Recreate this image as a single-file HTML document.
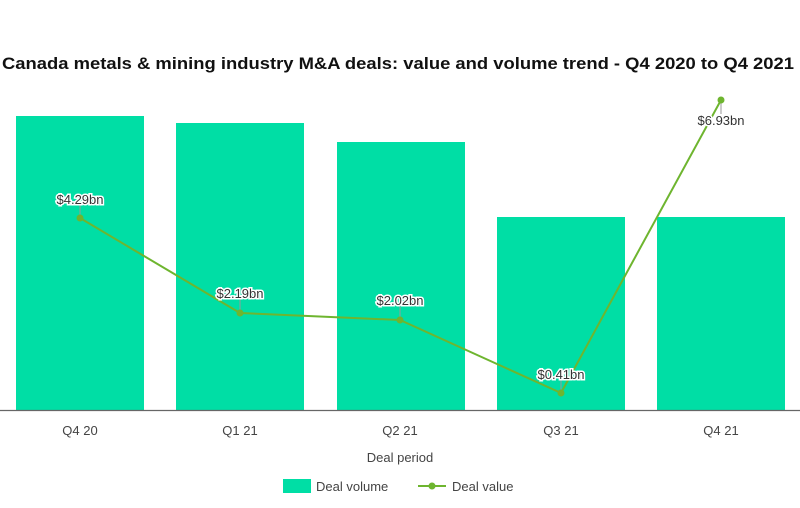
<!DOCTYPE html>
<html><head><style>body{margin:0;background:#fff}</style></head><body>
<svg width="800" height="503" xmlns="http://www.w3.org/2000/svg" font-family="Liberation Sans, Arial, sans-serif">
<text x="2" y="69" font-size="17" font-weight="bold" fill="#111" textLength="792" lengthAdjust="spacingAndGlyphs">Canada metals &amp; mining industry  M&amp;A deals: value and volume trend - Q4 2020 to Q4 2021</text>
<g fill="#00dea5">
<rect x="16" y="116" width="128" height="294"/>
<rect x="176" y="123" width="128" height="287"/>
<rect x="337" y="142" width="128" height="268"/>
<rect x="497" y="217" width="128" height="193"/>
<rect x="657" y="217" width="128" height="193"/>
</g>
<line x1="0" y1="410.5" x2="800" y2="410.5" stroke="#666" stroke-width="1.2"/>
<g font-size="13" fill="#444" text-anchor="middle">
<text x="80" y="435">Q4 20</text><text x="240" y="435">Q1 21</text><text x="400" y="435">Q2 21</text><text x="561" y="435">Q3 21</text><text x="721" y="435">Q4 21</text>
<text x="400" y="462">Deal period</text>
</g>
<g stroke="#999" stroke-width="1">
<line x1="80" y1="218" x2="80" y2="205"/><line x1="240" y1="313" x2="240" y2="298"/><line x1="400" y1="320" x2="400" y2="306"/><line x1="561" y1="393" x2="561" y2="380"/><line x1="721" y1="100" x2="721" y2="114"/>
</g>
<polyline points="80,218 240,313 400,320 561,393 721,100" fill="none" stroke="#6eb52f" stroke-width="2"/>
<g fill="#6eb52f"><circle cx="80" cy="218" r="3.5"/><circle cx="240" cy="313" r="3.5"/><circle cx="400" cy="320" r="3.5"/><circle cx="561" cy="393" r="3.5"/><circle cx="721" cy="100" r="3.5"/></g>
<g font-size="13" fill="#333" text-anchor="middle" stroke="#fff" stroke-width="3" paint-order="stroke">
<text x="80" y="204">$4.29bn</text><text x="240" y="298">$2.19bn</text><text x="400" y="305">$2.02bn</text><text x="561" y="379">$0.41bn</text><text x="721" y="125">$6.93bn</text>
</g>
<rect x="283" y="479" width="28" height="14" fill="#00dea5"/>
<text x="316" y="491" font-size="13" fill="#444">Deal volume</text>
<line x1="418" y1="486" x2="446" y2="486" stroke="#6eb52f" stroke-width="2"/><circle cx="432" cy="486" r="3.5" fill="#6eb52f"/>
<text x="452" y="491" font-size="13" fill="#444">Deal value</text>
</svg>
</body></html>
